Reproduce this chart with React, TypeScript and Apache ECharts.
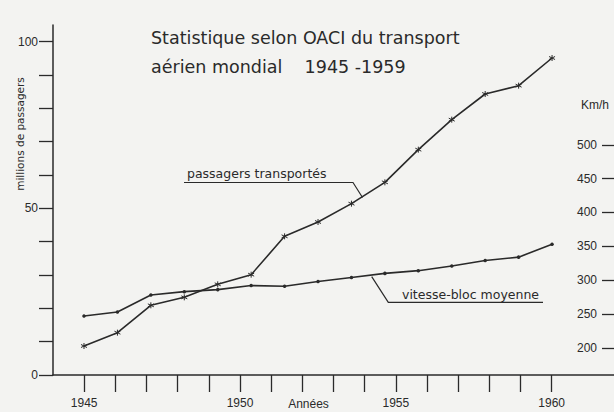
import React, { useEffect, useRef } from "react";
import * as echarts from "echarts";

const years = [1945, 1946, 1947, 1948, 1949, 1950, 1951, 1952, 1953, 1954, 1955, 1956, 1957, 1958, 1959];
const passagers = [8.7, 12.7, 20.9, 23.3, 27.2, 30.1, 41.6, 45.9, 51.4, 57.8, 67.6, 76.6, 84.3, 86.8, 95.1];
const vitesse = [247, 253, 278, 283, 286, 292, 291, 298, 304, 310, 314, 321, 329, 334, 353];

const axisYears = [1945, 1946, 1947, 1948, 1949, 1950, 1951, 1952, 1953, 1954, 1955, 1956, 1957, 1958, 1959, 1960];
const labeledYears = [1945, 1950, 1955, 1960];
const passagerTicks = [0, 10, 20, 30, 40, 50, 60, 70, 80, 90, 100];
const passagerLabels = [0, 50, 100];
const vitesseTicks = [200, 250, 300, 350, 400, 450, 500];

const INK = "#2a2a2a";
const BG = "#f3f3f1";
const FONT = "Liberation Sans";
const WIDE = "DejaVu Sans";

export default function App() {
  const ref = useRef<HTMLDivElement>(null);
  useEffect(() => {
    if (!ref.current) return;
    const chart = echarts.init(ref.current, null, { renderer: "svg" });
    const star = "path://M5 0L5 10M0.7 2.5L9.3 7.5M0.7 7.5L9.3 2.5";
    chart.setOption({
      animation: false,
      backgroundColor: BG,
      title: {
        text: "Statistique selon OACI du transport\naérien mondial    1945 -1959",
        left: 151,
        top: 24,
        padding: 0,
        textStyle: { fontFamily: WIDE, fontSize: 17.5, fontWeight: "normal", color: INK, lineHeight: 28.4 },
      },
      grid: [
        { left: 53, right: -5.5, top: 25, bottom: 37 },
        { left: 53, right: -5.5, top: 111, bottom: 64.2 },
      ],
      xAxis: [
        {
          type: "value", gridIndex: 0, min: 1944, max: 1962,
          axisLine: { show: true, lineStyle: { color: INK, width: 1.5 } },
          axisTick: { show: true, customValues: axisYears, length: 17, lineStyle: { color: INK, width: 1.3 } },
          axisLabel: {
            customValues: labeledYears, margin: 22, color: INK, fontFamily: FONT, fontSize: 12,
            formatter: (v: number) => String(v),
          },
          splitLine: { show: false },
        },
        { type: "value", gridIndex: 0, min: 1944.073, max: 1960.853, show: false },
        { type: "value", gridIndex: 1, min: 1944.073, max: 1960.853, show: false },
      ],
      yAxis: [
        {
          type: "value", gridIndex: 0, min: 0, max: 105, position: "left",
          axisLine: { show: true, lineStyle: { color: INK, width: 1.5 } },
          axisTick: { show: true, customValues: passagerTicks, length: 14, lineStyle: { color: INK, width: 1.3 } },
          axisLabel: { customValues: passagerLabels, margin: 15, color: INK, fontFamily: FONT, fontSize: 12 },
          splitLine: { show: false },
        },
        {
          type: "value", gridIndex: 1, min: 200, max: 550, position: "right",
          axisLine: { show: false },
          axisTick: { show: true, inside: true, customValues: vitesseTicks, length: 12, lineStyle: { color: INK, width: 1.3 } },
          axisLabel: { inside: true, customValues: vitesseTicks, margin: 17, color: INK, fontFamily: FONT, fontSize: 12 },
          splitLine: { show: false },
        },
      ],
      series: [
        {
          name: "passagers transportés",
          type: "line",
          xAxisIndex: 1, yAxisIndex: 0,
          data: years.map((y, i) => [y, passagers[i]]),
          lineStyle: { color: INK, width: 1.6 },
          symbol: star, symbolSize: 6,
          itemStyle: { color: "rgba(0,0,0,0)", borderColor: INK, borderWidth: 1 },
        },
        {
          name: "vitesse-bloc moyenne",
          type: "line",
          xAxisIndex: 2, yAxisIndex: 1,
          data: years.map((y, i) => [y, vitesse[i]]),
          lineStyle: { color: INK, width: 1.6 },
          symbol: "circle", symbolSize: 3.5,
          itemStyle: { color: INK },
        },
      ],
      graphic: [
        {
          type: "text", x: 20, y: 134, rotation: Math.PI / 2,
          style: { text: "millions de passagers", fontFamily: WIDE, fontSize: 10.5, fill: INK, align: "center", verticalAlign: "middle" },
        },
        {
          type: "text", x: 581, y: 105,
          style: { text: "Km/h", fontFamily: FONT, fontSize: 12, fill: INK, align: "left", verticalAlign: "middle" },
        },
        {
          type: "text", x: 308.5, y: 404,
          style: { text: "Années", fontFamily: FONT, fontSize: 12, fill: INK, align: "center", verticalAlign: "middle" },
        },
        {
          type: "text", x: 187, y: 173,
          style: { text: "passagers transportés", fontFamily: WIDE, fontSize: 12.5, fill: INK, align: "left", verticalAlign: "middle" },
        },
        {
          type: "polyline",
          shape: { points: [[184, 182.5], [353, 182.5], [362.5, 197.5]] },
          style: { stroke: INK, lineWidth: 1.2, fill: null },
        },
        {
          type: "text", x: 402, y: 294,
          style: { text: "vitesse-bloc moyenne", fontFamily: WIDE, fontSize: 12.5, fill: INK, align: "left", verticalAlign: "middle" },
        },
        {
          type: "polyline",
          shape: { points: [[543, 302.3], [388.3, 302.3], [371.7, 276.7]] },
          style: { stroke: INK, lineWidth: 1.2, fill: null },
        },
      ],
    });
    return () => chart.dispose();
  }, []);
  return <div ref={ref} style={{ position: "fixed", left: 0, top: 0, width: 614, height: 412 }} />;
}
